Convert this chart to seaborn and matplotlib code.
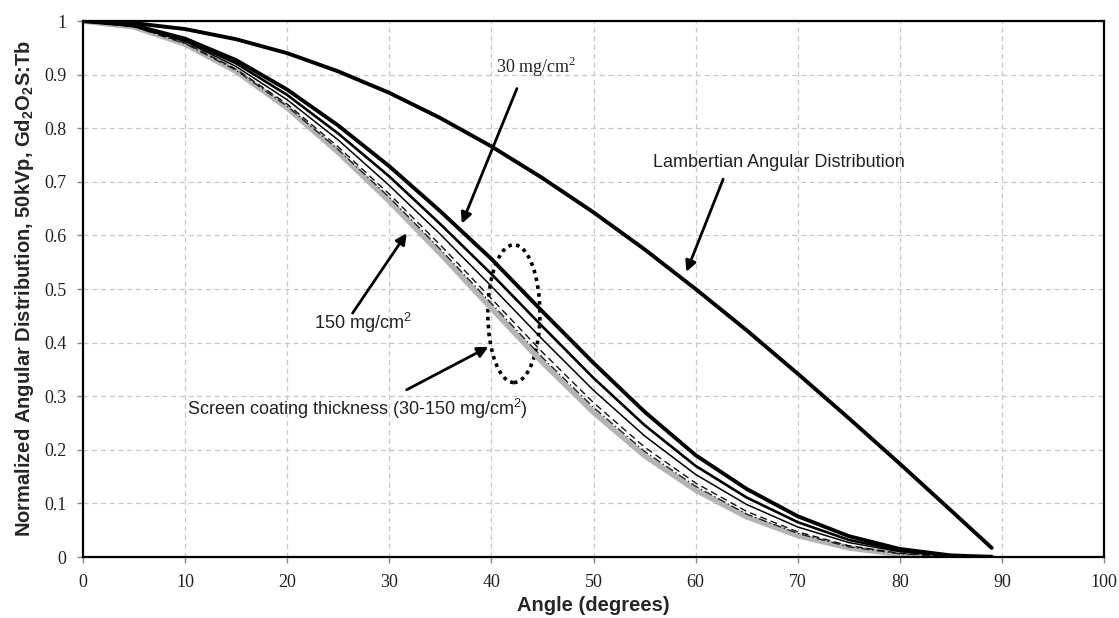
import numpy as np
import pandas as pd
import matplotlib
matplotlib.use("Agg")
import matplotlib.pyplot as plt
from matplotlib.patches import Ellipse
import seaborn as sns

angles = [0, 5, 10, 15, 20, 25, 30, 35, 40, 45, 50, 55, 60, 65, 70, 75, 80, 85, 89]
lambertian = [1.0, 0.996, 0.985, 0.966, 0.940, 0.906, 0.866, 0.819, 0.766, 0.707,
              0.643, 0.574, 0.500, 0.423, 0.342, 0.259, 0.174, 0.087, 0.017]
screen_30 = [1.0, 0.992, 0.967, 0.927, 0.872, 0.805, 0.729, 0.645, 0.556, 0.458,
             0.362, 0.271, 0.190, 0.127, 0.076, 0.039, 0.015, 0.003, 0.0]
screen_50 = [1.0, 0.991, 0.964, 0.921, 0.862, 0.790, 0.710, 0.621, 0.528, 0.430,
             0.334, 0.246, 0.170, 0.111, 0.065, 0.032, 0.012, 0.002, 0.0]
screen_70 = [1.0, 0.990, 0.962, 0.915, 0.853, 0.778, 0.693, 0.602, 0.505, 0.406,
             0.311, 0.226, 0.154, 0.098, 0.056, 0.027, 0.010, 0.002, 0.0]
screen_100 = [1.0, 0.990, 0.959, 0.910, 0.845, 0.765, 0.677, 0.582, 0.482, 0.382,
              0.288, 0.205, 0.138, 0.085, 0.047, 0.021, 0.007, 0.001, 0.0]
screen_120 = [1.0, 0.989, 0.958, 0.908, 0.841, 0.760, 0.671, 0.574, 0.473, 0.372,
              0.279, 0.197, 0.132, 0.080, 0.044, 0.019, 0.006, 0.001, 0.0]
screen_150 = [1.0, 0.989, 0.957, 0.906, 0.838, 0.755, 0.664, 0.566, 0.464, 0.363,
              0.270, 0.189, 0.125, 0.075, 0.040, 0.017, 0.005, 0.001, 0.0]

x_ticks = [0, 10, 20, 30, 40, 50, 60, 70, 80, 90, 100]
y_ticks = [0, 0.1, 0.2, 0.3, 0.4, 0.5, 0.6, 0.7, 0.8, 0.9, 1.0]
y_ticklabels = ["0", "0.1", "0.2", "0.3", "0.4", "0.5", "0.6", "0.7", "0.8", "0.9", "1"]

sns.set_theme(style="whitegrid")
plt.rcParams["font.family"] = ["Liberation Sans", "DejaVu Sans"]
plt.rcParams["mathtext.fontset"] = "custom"
plt.rcParams["mathtext.rm"] = "Liberation Sans"
plt.rcParams["mathtext.bf"] = "Liberation Sans:bold"

fig = plt.figure(figsize=(11.19, 6.18), dpi=100)
ax = fig.add_axes([0.0742, 0.0987, 0.9124, 0.8673])

series = [
    ("150", screen_150, dict(color="#b4b4b4", lw=4.0, ls="-")),
    ("120", screen_120, dict(color="#222222", lw=1.0, ls=(0, (6, 2, 1, 2)))),
    ("100", screen_100, dict(color="#111111", lw=1.0, ls=(0, (5, 3)))),
    ("70", screen_70, dict(color="black", lw=1.1, ls="-")),
    ("50", screen_50, dict(color="black", lw=1.9, ls="-")),
    ("30", screen_30, dict(color="black", lw=2.8, ls="-")),
    ("lamb", lambertian, dict(color="black", lw=2.8, ls="-")),
]
for name, vals, st in series:
    df = pd.DataFrame({"angle": angles, "value": vals})
    sns.lineplot(data=df, x="angle", y="value", ax=ax, color=st["color"],
                 linewidth=st["lw"], linestyle=st["ls"], estimator=None,
                 sort=False, solid_capstyle="round", solid_joinstyle="round")

ax.set_xlim(0, 100)
ax.set_ylim(0, 1)
ax.set_xticks(x_ticks)
ax.set_yticks(y_ticks)
ax.set_yticklabels(y_ticklabels)
for lab in ax.get_xticklabels() + ax.get_yticklabels():
    lab.set_family("Liberation Serif")
    lab.set_fontsize(13)
    lab.set_color("#222222")
ax.tick_params(axis="both", which="both", direction="out", length=4, width=1,
               color="#888888", bottom=True, left=True, pad=8)
ax.grid(True, color="#c8c8c8", linestyle=(0, (4, 3)), linewidth=0.9)
ax.set_facecolor("white")
for sp in ax.spines.values():
    sp.set_color("black")
    sp.set_linewidth(1.6)

ax.set_xlabel("Angle (degrees)", fontsize=14.5, fontweight="bold", labelpad=4)
ax.set_ylabel(r"Normalized Angular Distribution, 50kVp, Gd$_\mathbf{2}$O$_\mathbf{2}$S:Tb",
              fontsize=14.5, fontweight="bold", labelpad=6)

arrow = dict(arrowstyle="-|>", color="black", lw=2.0, mutation_scale=16, shrinkA=0, shrinkB=0)
ax.annotate("", xy=(37.1, 0.622), xytext=(42.5, 0.874), arrowprops=arrow)
ax.text(44.4, 0.915, r"30 mg/cm$^\mathregular{2}$", ha="center", va="center",
        fontsize=13, family="Liberation Serif", color="#222222")
ax.annotate("", xy=(59.1, 0.532), xytext=(62.7, 0.705), arrowprops=arrow)
ax.text(68.2, 0.736, "Lambertian Angular Distribution", ha="center", va="center",
        fontsize=13, color="#222222")
ax.annotate("", xy=(31.7, 0.604), xytext=(26.4, 0.455), arrowprops=arrow)
ax.text(27.4, 0.437, r"150 mg/cm$^\mathregular{2}$", ha="center", va="center",
        fontsize=13, color="#222222")
ax.annotate("", xy=(39.7, 0.392), xytext=(31.7, 0.312), arrowprops=arrow)
ax.text(26.9, 0.277, r"Screen coating thickness (30-150 mg/cm$^\mathregular{2}$)", ha="center",
        va="center", fontsize=13, color="#222222")
ax.add_patch(Ellipse((42.2, 0.454), 5.1, 0.257, fill=False, edgecolor="black",
                     linestyle=(0, (1, 1.2)), linewidth=2.6))

fig.savefig("out.png", dpi=100, facecolor="white")
